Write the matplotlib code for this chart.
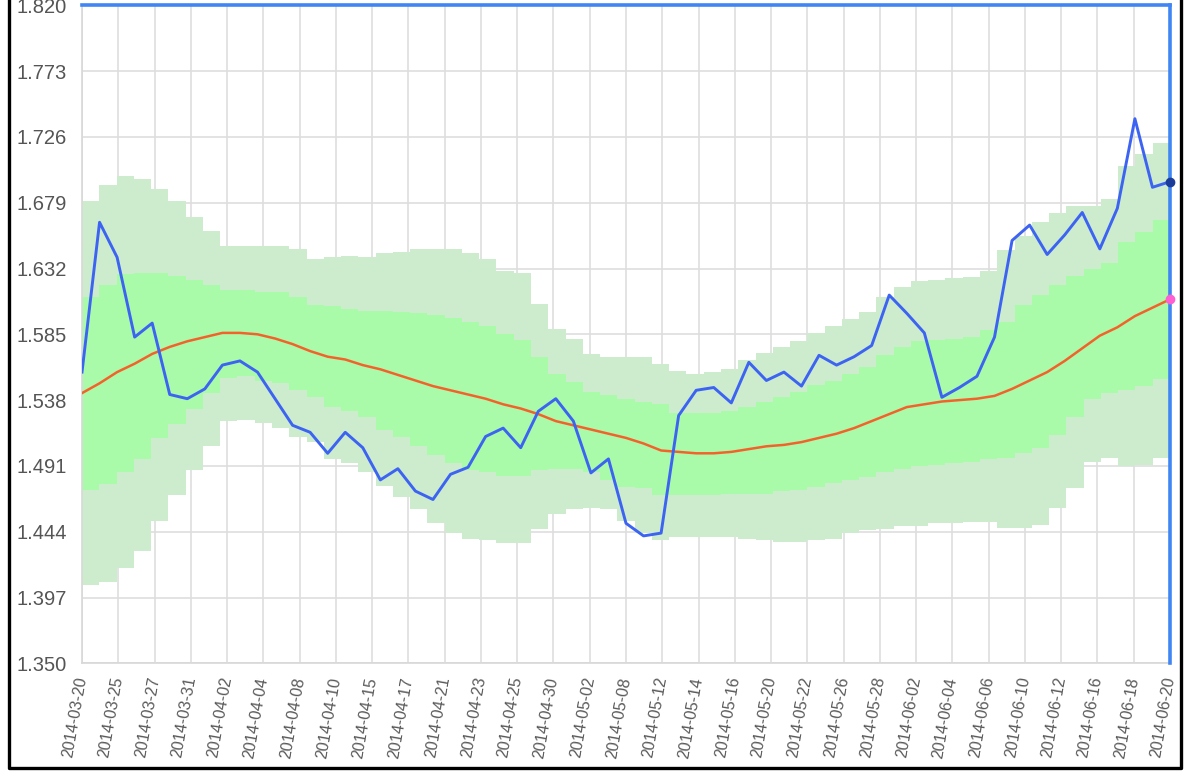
import numpy as np
import matplotlib
matplotlib.use("Agg")
import matplotlib.pyplot as plt
from matplotlib.lines import Line2D

plt.rcParams['font.family'] = ['Liberation Sans', 'DejaVu Sans']

# tick labels on the x axis (spread evenly over the 63 samples)
date_labels = ['2014-03-20', '2014-03-25', '2014-03-27', '2014-03-31', '2014-04-02',
               '2014-04-04', '2014-04-08', '2014-04-10', '2014-04-15', '2014-04-17',
               '2014-04-21', '2014-04-23', '2014-04-25', '2014-04-30', '2014-05-02',
               '2014-05-08', '2014-05-12', '2014-05-14', '2014-05-16', '2014-05-20',
               '2014-05-22', '2014-05-26', '2014-05-28', '2014-06-02', '2014-06-04',
               '2014-06-06', '2014-06-10', '2014-06-12', '2014-06-16', '2014-06-18',
               '2014-06-20']

# price (blue line)
price = [1.558, 1.665, 1.640, 1.583, 1.593, 1.542, 1.539, 1.546, 1.563, 1.566,
         1.558, 1.539, 1.520, 1.515, 1.500, 1.515, 1.504, 1.481, 1.489, 1.473,
         1.467, 1.485, 1.490, 1.512, 1.518, 1.504, 1.530, 1.539, 1.523, 1.486,
         1.496, 1.450, 1.441, 1.443, 1.527, 1.545, 1.547, 1.536, 1.565, 1.552,
         1.558, 1.548, 1.570, 1.563, 1.569, 1.577, 1.613, 1.600, 1.586, 1.540,
         1.547, 1.555, 1.583, 1.652, 1.663, 1.642, 1.656, 1.672, 1.646, 1.675,
         1.739, 1.690, 1.694]

# moving average (orange line)
mean = [1.543, 1.550, 1.558, 1.564, 1.571, 1.576, 1.580, 1.583, 1.586, 1.586,
        1.585, 1.582, 1.578, 1.573, 1.569, 1.567, 1.563, 1.560, 1.556, 1.552,
        1.548, 1.545, 1.542, 1.539, 1.535, 1.532, 1.528, 1.523, 1.520, 1.517,
        1.514, 1.511, 1.507, 1.502, 1.501, 1.500, 1.500, 1.501, 1.503, 1.505,
        1.506, 1.508, 1.511, 1.514, 1.518, 1.523, 1.528, 1.533, 1.535, 1.537,
        1.538, 1.539, 1.541, 1.546, 1.552, 1.558, 1.566, 1.575, 1.584, 1.590,
        1.598, 1.604, 1.610]

# outer band (light green)
outer_hi = [1.680, 1.692, 1.698, 1.696, 1.689, 1.680, 1.669, 1.659, 1.648, 1.648,
            1.648, 1.648, 1.646, 1.639, 1.640, 1.641, 1.640, 1.643, 1.644, 1.646,
            1.646, 1.646, 1.643, 1.639, 1.630, 1.629, 1.607, 1.589, 1.582, 1.571,
            1.569, 1.569, 1.569, 1.564, 1.559, 1.557, 1.558, 1.560, 1.567, 1.572,
            1.576, 1.580, 1.586, 1.591, 1.596, 1.601, 1.612, 1.619, 1.623, 1.624,
            1.625, 1.626, 1.630, 1.645, 1.655, 1.665, 1.672, 1.677, 1.677, 1.682,
            1.705, 1.714, 1.722]
outer_lo = [1.406, 1.408, 1.418, 1.430, 1.452, 1.470, 1.488, 1.505, 1.523, 1.524,
            1.522, 1.518, 1.512, 1.508, 1.496, 1.493, 1.487, 1.477, 1.469, 1.460,
            1.450, 1.443, 1.439, 1.438, 1.436, 1.436, 1.446, 1.457, 1.460, 1.461,
            1.460, 1.452, 1.443, 1.438, 1.440, 1.440, 1.440, 1.440, 1.439, 1.438,
            1.437, 1.437, 1.438, 1.439, 1.443, 1.445, 1.446, 1.448, 1.448, 1.450,
            1.450, 1.451, 1.451, 1.447, 1.447, 1.449, 1.461, 1.475, 1.494, 1.497,
            1.491, 1.492, 1.497]

# inner band (bright green)
inner_hi = [1.612, 1.620, 1.628, 1.629, 1.629, 1.627, 1.624, 1.620, 1.617, 1.617,
            1.615, 1.615, 1.612, 1.606, 1.605, 1.603, 1.602, 1.602, 1.601, 1.600,
            1.599, 1.597, 1.594, 1.591, 1.585, 1.581, 1.569, 1.557, 1.551, 1.544,
            1.542, 1.539, 1.537, 1.535, 1.529, 1.529, 1.529, 1.530, 1.533, 1.537,
            1.540, 1.544, 1.549, 1.552, 1.557, 1.562, 1.570, 1.576, 1.580, 1.581,
            1.582, 1.583, 1.588, 1.594, 1.606, 1.613, 1.620, 1.627, 1.632, 1.636,
            1.651, 1.658, 1.667]
inner_lo = [1.474, 1.478, 1.487, 1.496, 1.511, 1.521, 1.532, 1.543, 1.554, 1.555,
            1.552, 1.550, 1.545, 1.540, 1.533, 1.530, 1.526, 1.517, 1.512, 1.505,
            1.499, 1.493, 1.488, 1.487, 1.484, 1.484, 1.488, 1.489, 1.489, 1.487,
            1.481, 1.476, 1.475, 1.470, 1.470, 1.470, 1.470, 1.471, 1.471, 1.471,
            1.473, 1.474, 1.476, 1.479, 1.481, 1.483, 1.487, 1.489, 1.491, 1.492,
            1.493, 1.494, 1.496, 1.497, 1.500, 1.504, 1.513, 1.526, 1.539, 1.543,
            1.545, 1.548, 1.553]

y_ticks = [1.350, 1.397, 1.444, 1.491, 1.538, 1.585, 1.632, 1.679, 1.726, 1.773, 1.820]

n = len(price)
x = np.arange(n)
# band bars cover the whole axis width, one per sample
edges = np.linspace(0, n - 1, n + 1)

fig = plt.figure(figsize=(11.84, 7.75), dpi=100)
ax = fig.add_axes([82 / 1184, 111.7 / 775, 1088 / 1184, 658 / 775])

def ext(v):
    return list(v) + [v[-1]]

ax.fill_between(edges, ext(outer_lo), ext(outer_hi), step='post',
                color='#cdebcd', lw=0, zorder=1)
ax.fill_between(edges, ext(inner_lo), ext(inner_hi), step='post',
                color='#a9fba9', lw=0, zorder=2)

ax.plot(x, mean, color='#f4622c', lw=1.8, zorder=3)
ax.plot(x, price, color='#3c63f2', lw=2.1, zorder=4)
ax.plot(x[-1], price[-1], 'o', color='#1b3d99', ms=6, zorder=6, clip_on=False)
ax.plot(x[-1], mean[-1], 'o', color='#ff5fd0', ms=6, zorder=6, clip_on=False)

ax.set_xlim(0, n - 1)
ax.set_ylim(y_ticks[0], y_ticks[-1])
ax.set_yticks(y_ticks)
ax.set_yticklabels([f'{v:.3f}' for v in y_ticks])
tick_pos = np.linspace(0, n - 1, len(date_labels))
ax.set_xticks(tick_pos)
ax.set_xticklabels(date_labels, rotation=80, ha='right', va='center',
                   rotation_mode='anchor')

ax.grid(True, color='#dedede', lw=1.2, zorder=0)
ax.set_axisbelow(True)
ax.tick_params(axis='y', length=0, pad=11, labelsize=14.5, labelcolor='#555555')
ax.tick_params(axis='x', length=0, pad=10, labelsize=11.5, labelcolor='#5a5a5a')

for s in ['left', 'bottom']:
    ax.spines[s].set_color('#d8d8d8')
    ax.spines[s].set_linewidth(1.2)
for s in ['top', 'right']:
    ax.spines[s].set_color('#3f86f4')
    ax.spines[s].set_linewidth(2.6)
    ax.spines[s].set_zorder(5)

# dark frame of the screenshot (left, bottom, right)
W, H = 1184, 775
fx = [8.5 / W, 8.5 / W, 1180.5 / W, 1180.5 / W]
fy = [1.0, 7.5 / H, 7.5 / H, 1.0]
fig.add_artist(Line2D(fx, fy, transform=fig.transFigure, color='black', lw=2.4))

fig.savefig('out.png', dpi=100)
